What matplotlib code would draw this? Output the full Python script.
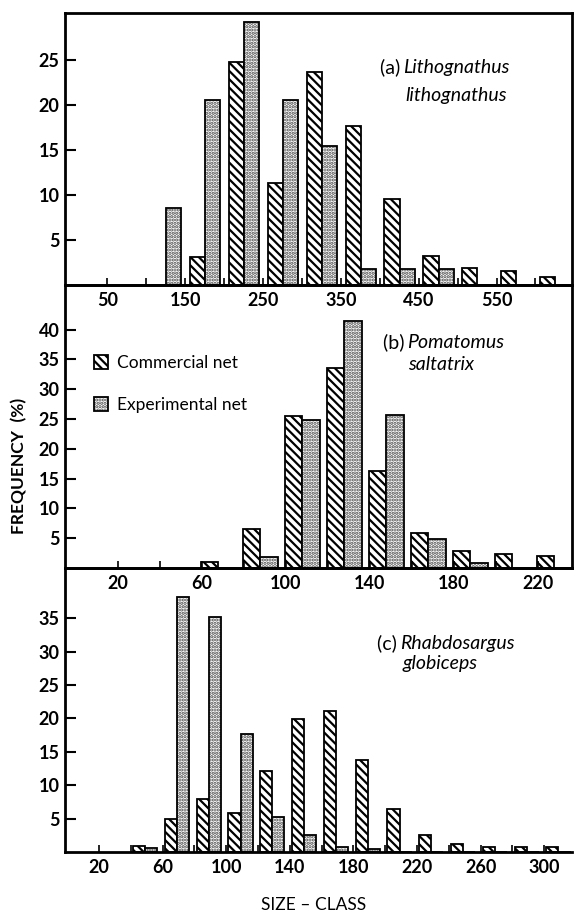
import matplotlib
matplotlib.use("Agg")
import matplotlib.pyplot as plt
from matplotlib.legend_handler import HandlerTuple
import numpy as np

plt.rcParams['font.family'] = ['Lato', 'DejaVu Sans']
plt.rcParams['hatch.linewidth'] = 1.6

# ---------------- data ----------------
# (a) Lithognathus lithognathus (size classes of 50)
classes_a = [100, 150, 200, 250, 300, 350, 400, 450, 500, 550, 600]
commercial_a = [0, 3.1, 24.8, 11.3, 23.7, 17.7, 9.5, 3.2, 1.9, 1.5, 0.9]
experimental_a = [8.5, 20.5, 29.2, 20.5, 15.4, 1.8, 1.8, 1.8, 0, 0, 0]
xticklabels_a = [50, 150, 250, 350, 450, 550]
yticks_a = [5, 10, 15, 20, 25]

# (b) Pomatomus saltatrix (size classes of 20)
classes_b = [60, 80, 100, 120, 140, 160, 180, 200, 220]
commercial_b = [1.0, 6.6, 25.5, 33.6, 16.2, 5.9, 2.8, 2.4, 2.0]
experimental_b = [0, 1.8, 24.9, 41.4, 25.7, 4.9, 0.8, 0, 0]
xticklabels_b = [20, 60, 100, 140, 180, 220]
yticks_b = [5, 10, 15, 20, 25, 30, 35, 40]

# (c) Rhabdosargus globiceps (size classes of 20)
classes_c = [40, 60, 80, 100, 120, 140, 160, 180, 200, 220, 240, 260, 280, 300]
commercial_c = [0.9, 5.0, 8.0, 5.9, 12.1, 19.9, 21.1, 13.8, 6.4, 2.6, 1.2, 0.8, 0.8, 0.8]
experimental_c = [0.6, 38.2, 35.2, 17.6, 5.2, 2.6, 0.7, 0.4, 0, 0, 0, 0, 0, 0]
xticklabels_c = [20, 60, 100, 140, 180, 220, 260, 300]
yticks_c = [5, 10, 15, 20, 25, 30, 35]

series_names = ["Commercial net", "Experimental net"]
titles = [("(a) ", "Lithognathus", "lithognathus"),
          ("(b) ", "Pomatomus", "saltatrix"),
          ("(c) ", "Rhabdosargus", "globiceps")]

# ---------------- layout ----------------
W, H = 576, 918
fig = plt.figure(figsize=(W / 100, H / 100), dpi=100)

def fx(px):
    return px / W

def fy(py):
    return 1 - py / H

left_px, right_px = 65, 572
panels = [
    dict(top=13, bot=285, classes=classes_a, com=commercial_a, exp=experimental_a,
         off=25.5, w=19.5, xlim=(-4.6, 647), ylim=(0, 30.2), step=50,
         xlabels=xticklabels_a, yticks=yticks_a, right=True),
    dict(top=285, bot=568, classes=classes_b, com=commercial_b, exp=experimental_b,
         off=8.0, w=8.2, xlim=(-5, 236.4), ylim=(0, 47.5), step=20,
         xlabels=xticklabels_b, yticks=yticks_b, right=True),
    dict(top=568, bot=852, classes=classes_c, com=commercial_c, exp=experimental_c,
         off=9.0, w=7.6, xlim=(-1.4, 317.5), ylim=(0, 42.5), step=20,
         xlabels=xticklabels_c, yticks=yticks_c, right=False),
]

hatch_com = '\\\\\\\\'
hatch_exp = '.....'
dot_color = '#4a4a4a'
tickfont = dict(fontsize=13, fontweight='bold')

axes = []
handles = None
for p in panels:
    ax = fig.add_axes([fx(left_px), fy(p['bot']), fx(right_px - left_px),
                       (p['bot'] - p['top']) / H])
    ax.patch.set_visible(False)
    x = np.array(p['classes'], dtype=float)
    xc = x + p['off'] - p['w'] / 2
    xe = x + p['off'] + p['w'] / 2
    b1 = ax.bar(xc, p['com'], width=p['w'], color='white',
                edgecolor='black', linewidth=1.3, hatch=hatch_com)
    b2f = ax.bar(xe, p['exp'], width=p['w'], color='white',
                 edgecolor=dot_color, linewidth=0, hatch=hatch_exp)
    b2o = ax.bar(xe, p['exp'], width=p['w'], fill=False,
                 edgecolor='black', linewidth=1.3)
    if handles is None:
        handles = [b1, (b2f, b2o)]
    ax.set_xlim(*p['xlim'])
    ax.set_ylim(*p['ylim'])
    ax.set_xticks(p['xlabels'])
    ax.set_xticklabels([str(v) for v in p['xlabels']], **tickfont)
    minor = [v + p['step'] for v in p['xlabels']]
    ax.set_xticks([m for m in minor if m < p['xlim'][1]], minor=True)
    ax.set_yticks(p['yticks'])
    ax.set_yticklabels([str(v) for v in p['yticks']], **tickfont)
    ax.tick_params(axis='y', direction='in', length=8, width=1.5, pad=4)
    ax.tick_params(axis='x', which='both', direction='in', length=5, width=1.2, pad=5)
    for s in ['left', 'bottom', 'top', 'right']:
        ax.spines[s].set_linewidth(2.0)
    ax.spines['right'].set_visible(p['right'])
    ax.spines['top'].set_visible(True)
    axes.append(ax)

# species annotations
label_pos = [((380, 67), (405, 95)), ((383, 342), (408, 364)), ((377, 643), (403, 664))]
for (pre, g, s), ((x1, y1), (x2, y2)) in zip(titles, label_pos):
    t = fig.text(fx(x1), fy(y1), pre, fontsize=14, va='center', ha='left')
    fig.canvas.draw()
    bb = t.get_window_extent()
    fig.text(bb.x1 / W - 0.004, fy(y1), g, fontsize=14, style='italic', va='center', ha='left')
    fig.text(fx(x2), fy(y2), s, fontsize=14, style='italic', va='center', ha='left')

# legend
axes[1].legend(handles, series_names, loc='upper left',
               bbox_to_anchor=((94 - left_px) / (right_px - left_px), 1 - (355 - 285) / (568 - 285)),
               frameon=False, fontsize=12.5, handlelength=0.8, handleheight=0.8,
               labelspacing=1.5, handletextpad=0.55, borderpad=0, borderaxespad=0,
               handler_map={tuple: HandlerTuple(ndivide=1)})

fig.text(fx(19), fy(466), "FREQUENCY  (%)", rotation=90, fontsize=12.5, fontweight='bold',
         va='center', ha='center')
fig.text(fx(314), fy(905), "SIZE – CLASS", fontsize=12.5, va='center', ha='center')

fig.savefig("out.png", dpi=100)
